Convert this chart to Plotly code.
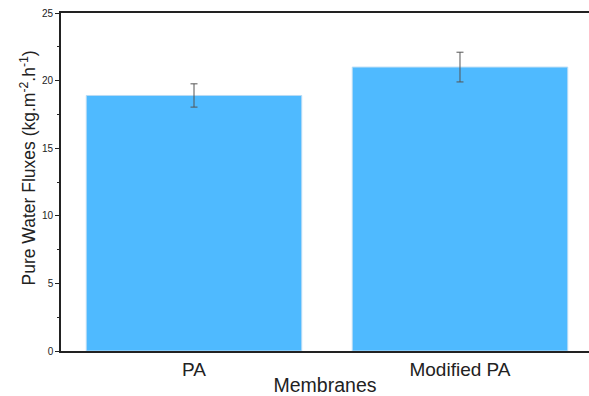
import plotly.graph_objects as go

# Pure water flux per membrane type, with standard deviation
membranes = ["PA", "Modified PA"]
flux = [18.9, 21.0]
flux_err = [0.86, 1.1]

fig = go.Figure()
fig.add_trace(go.Bar(
    x=[0, 1],
    y=flux,
    width=0.81,
    marker=dict(color="#4fbaff", line=dict(color="#b8dcf5", width=1)),
    error_y=dict(type="data", array=flux_err, visible=True,
                 color="#555555", thickness=1, width=3.5),
    showlegend=False,
))

font_family = "Liberation Sans, Arial, sans-serif"

fig.update_layout(
    width=589, height=396,
    margin=dict(l=61, r=0, t=13, b=45),
    plot_bgcolor="white", paper_bgcolor="white",
    font=dict(family=font_family, color="#222222"),
)

fig.update_xaxes(
    range=[-0.5, 1.485],
    tickmode="array", tickvals=[0, 1], ticktext=membranes,
    tickfont=dict(size=19, color="#222222"),
    showline=True, linecolor="#222222", linewidth=1.6, mirror=True,
    ticks="", showgrid=False, zeroline=False,
    title=dict(text="Membranes", font=dict(size=19.5, color="#222222"), standoff=0),
)

fig.update_yaxes(
    range=[0, 25],
    tickvals=[0, 5, 10, 15, 20, 25],
    tickfont=dict(size=10, color="#222222"),
    ticks="outside", ticklen=4, tickwidth=1.2, tickcolor="#222222",
    minor=dict(tickvals=[2.5, 7.5, 12.5, 17.5, 22.5], ticks="outside",
               ticklen=2.5, tickwidth=1, tickcolor="#222222"),
    showline=True, linecolor="#222222", linewidth=1.6, mirror=False,
    showgrid=False, zeroline=False,
)

# Rotated y-axis title, placed to the left of the tick labels
fig.add_annotation(
    text="Pure Water Fluxes (kg.m<sup>-2</sup>.h<sup>-1</sup>)",
    textangle=-90, showarrow=False,
    xref="paper", yref="paper",
    x=-33 / 528, y=0.54, xanchor="center", yanchor="middle",
    font=dict(size=17.5, color="#222222"),
)

fig.write_html("out.html")
